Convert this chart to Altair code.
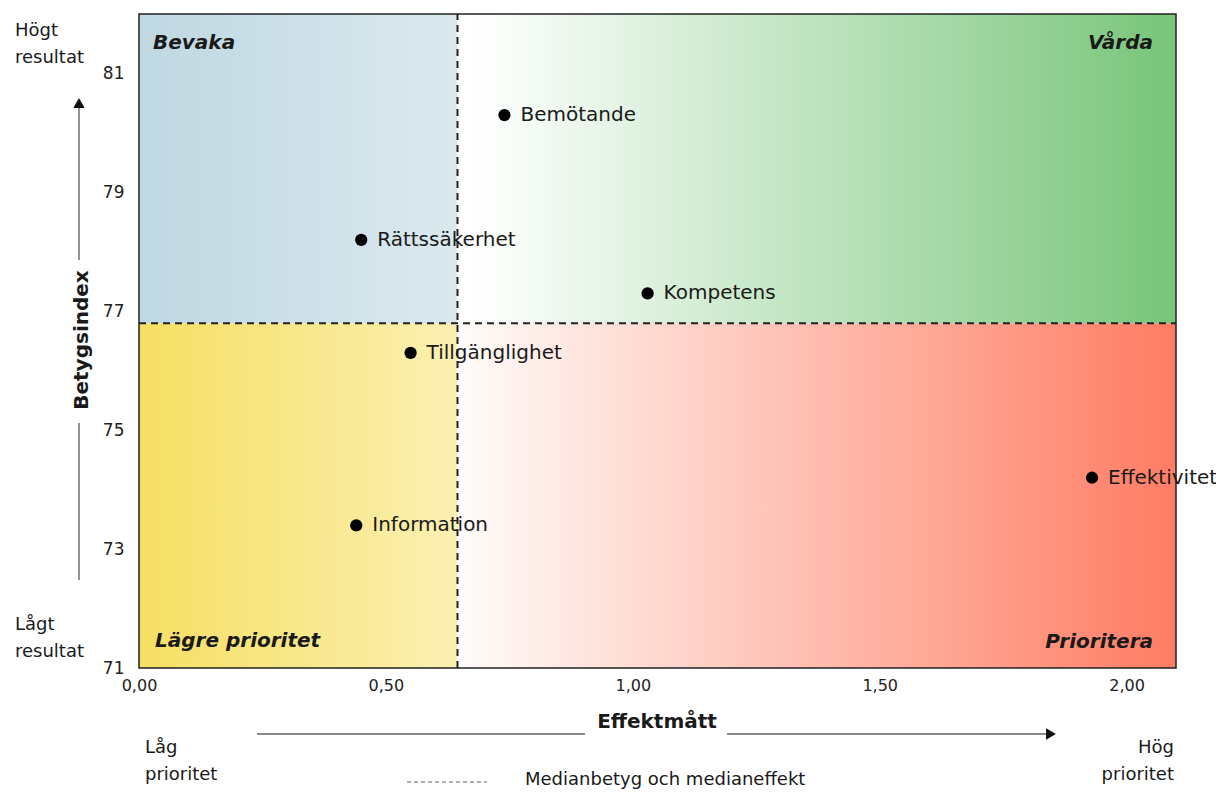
import altair as alt
import pandas as pd

FONT = "DejaVu Sans"

# ---- data ----
categories = ["Bemötande", "Rättssäkerhet", "Kompetens", "Tillgänglighet", "Effektivitet", "Information"]
effekt = [0.74, 0.45, 1.03, 0.55, 1.93, 0.44]
betyg = [80.3, 78.2, 77.3, 76.3, 74.2, 73.4]
median_effekt = 0.645
median_betyg = 76.8
x_domain = [0, 2.1]
y_domain = [71, 82]
x_ticks = [0, 0.5, 1.0, 1.5, 2.0]
y_ticks = [71, 73, 75, 77, 79, 81]
quadrant_names = ["Bevaka", "Vårda", "Lägre prioritet", "Prioritera"]

points = pd.DataFrame({"kategori": categories, "effekt": effekt, "betyg": betyg})
quads = pd.DataFrame({
    "q": quadrant_names,
    "x0": [x_domain[0], median_effekt, x_domain[0], median_effekt],
    "x1": [median_effekt, x_domain[1], median_effekt, x_domain[1]],
    "y0": [median_betyg, median_betyg, y_domain[0], y_domain[0]],
    "y1": [y_domain[1], y_domain[1], median_betyg, median_betyg],
})
medians = pd.DataFrame({"mx": [median_effekt], "my": [median_betyg],
                        "xa": [x_domain[0]], "xb": [x_domain[1]],
                        "ya": [y_domain[0]], "yb": [y_domain[1]]})

xs = alt.Scale(domain=x_domain, nice=False, zero=False)
ys = alt.Scale(domain=y_domain, nice=False, zero=False)


def grad(stops):
    return alt.LinearGradient(
        gradient="linear", x1=0, y1=0, x2=1, y2=0,
        stops=[alt.GradientStop(color=c, offset=o) for o, c in stops])


gradients = {
    "Bevaka": grad([(0, "#bfd8e2"), (1, "#dbe9ee")]),
    "Vårda": grad([(0, "#ffffff"), (0.05, "#fcfefc"), (1, "#78c57a")]),
    "Lägre prioritet": grad([(0, "#f6df62"), (1, "#fbf0b2")]),
    "Prioritera": grad([(0, "#ffffff"), (0.03, "#fff8f5"), (1, "#ff7c63")]),
}

x_axis = alt.Axis(values=x_ticks, labelExpr="replace(format(datum.value, '.2f'), '.', ',')",
                  ticks=False, domain=False, grid=False, labelFontSize=16, labelFont=FONT,
                  labelColor="#222", labelPadding=9, labelFlush=False, title=None)
y_axis = alt.Axis(values=y_ticks, ticks=False, domain=False, grid=False, labelFontSize=17,
                  labelFont=FONT, labelColor="#222", labelPadding=15, title=None)


def X(field):
    return alt.X(field, scale=xs, axis=x_axis)


def Y(field):
    return alt.Y(field, scale=ys, axis=y_axis)


layers = []
for name in quadrant_names:
    layers.append(
        alt.Chart(quads[quads.q == name]).mark_rect(color=gradients[name]).encode(
            x=X("x0:Q"), x2="x1:Q", y=Y("y0:Q"), y2="y1:Q")
    )

# border
layers.append(
    alt.Chart(medians).mark_rect(fillOpacity=0, stroke="#222", strokeWidth=1.5).encode(
        x=X("xa:Q"), x2="xb:Q", y=Y("ya:Q"), y2="yb:Q")
)
# median lines
layers.append(
    alt.Chart(medians).mark_rule(color="#222", strokeWidth=2, strokeDash=[7, 5]).encode(
        x=X("mx:Q"), y=Y("ya:Q"), y2="yb:Q")
)
layers.append(
    alt.Chart(medians).mark_rule(color="#222", strokeWidth=2, strokeDash=[7, 5]).encode(
        y=Y("my:Q"), x=X("xa:Q"), x2="xb:Q")
)
# points and labels
layers.append(
    alt.Chart(points).mark_circle(size=150, color="#000", opacity=1).encode(
        x=X("effekt:Q"), y=Y("betyg:Q"))
)
layers.append(
    alt.Chart(points).mark_text(align="left", baseline="middle", dx=16, fontSize=20,
                                font=FONT, color="#1a1a1a").encode(
        x=X("effekt:Q"), y=Y("betyg:Q"), text="kategori:N")
)

one = alt.Data(values=[{}])


def label(text, x, y, align="left", size=18, weight="normal", style="normal", angle=0, lh=27):
    kw = dict(text=text, align=align, baseline="middle", fontSize=size, font=FONT,
              fontWeight=weight, fontStyle=style, color="#1a1a1a", lineHeight=lh)
    if angle:
        kw["angle"] = angle
    return alt.Chart(one).mark_text(**kw).encode(x=alt.value(x), y=alt.value(y))


def seg(x, y, x2=None, y2=None, color="#666", width=1.4, dash=None):
    kw = dict(color=color, strokeWidth=width)
    if dash:
        kw["strokeDash"] = dash
    enc = dict(x=alt.value(x), y=alt.value(y))
    if x2 is not None:
        enc["x2"] = alt.value(x2)
    if y2 is not None:
        enc["y2"] = alt.value(y2)
    return alt.Chart(one).mark_rule(**kw).encode(**enc)


def tri(shape, x, y):
    return alt.Chart(one).mark_point(shape=shape, filled=True, size=130, color="#111",
                                     opacity=1).encode(x=alt.value(x), y=alt.value(y))


# quadrant titles
layers += [
    label(quadrant_names[0], 14, 29, size=20, weight="bold", style="italic"),
    label(quadrant_names[1], 1014, 29, align="right", size=20, weight="bold", style="italic"),
    label(quadrant_names[2], 16, 627, size=20, weight="bold", style="italic"),
    label(quadrant_names[3], 1014, 628, align="right", size=20, weight="bold", style="italic"),
]

# y-side annotations
layers += [
    label(["Högt", "resultat"], -124, 17),
    label(["Lågt", "resultat"], -124, 611),
    label("Betygsindex", -57, 326, align="center", size=20, weight="bold", angle=270),
    seg(-60, 92, y2=246),
    seg(-60, 409, y2=566),
    tri("triangle-up", -60, 89),
]

# x-side annotations
layers += [
    label("Effektmått", 518, 708, align="center", size=20, weight="bold"),
    seg(118, 720, x2=446),
    seg(588, 720, x2=908),
    tri("triangle-right", 912, 720),
    label(["Låg", "prioritet"], 6, 734),
    label(["Hög", "prioritet"], 1035, 734, align="right"),
    seg(268, 768, x2=348, color="#666", width=1.2, dash=[4, 3]),
    label("Medianbetyg och medianeffekt", 386, 766, size=18),
]

chart = alt.layer(*layers).properties(
    width=1037, height=654,
    autosize=alt.AutoSizeParams(type="none"),
    padding={"left": 131, "top": 6, "right": 40, "bottom": 122},
).configure_view(stroke=None)

chart.save("out.html", embed_options={"renderer": "svg", "actions": False})
